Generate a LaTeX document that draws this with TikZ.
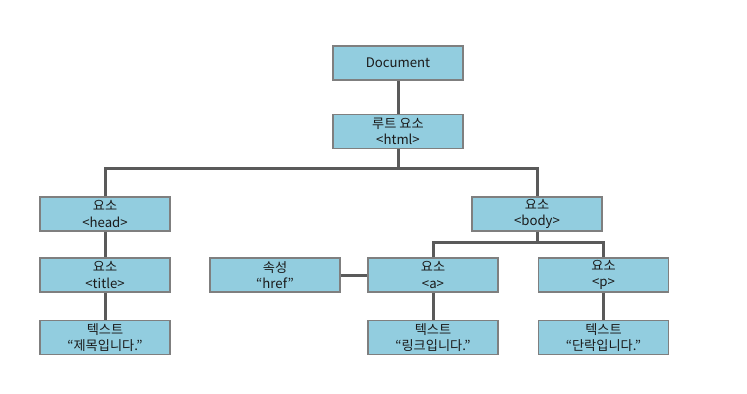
\documentclass[tikz,border=0pt]{standalone}
\usepackage{fontspec}
\setmainfont{Noto Sans CJK KR}
\definecolor{boxfill}{HTML}{92CDDF}
\definecolor{boxline}{HTML}{7F7F7F}
\definecolor{conn}{HTML}{5A5A5A}
\definecolor{txt}{HTML}{1A1A1A}
\begin{document}
\begin{tikzpicture}[x=1bp,y=-1bp,
  domnode/.style={draw=boxline,line width=1.3bp,fill=boxfill,rectangle,
    minimum width=130bp,minimum height=34bp,inner sep=0pt,align=center,
    text=txt,font=\fontsize{13.2bp}{16.5bp}\selectfont},
  link/.style={draw=conn,line width=3bp}]
\useasboundingbox (0,0) rectangle (747,393);
\node[domnode] (doc) at (398,63) {Document};
\node[domnode] (root) at (398,131.5) {루트 요소\\<html>};
\node[domnode] (head) at (105,214) {요소\\<head>};
\node[domnode] (title) at (105,275) {요소\\<title>};
\node[domnode] (ttext) at (105,337.5) {텍스트\\“제목입니다.”};
\node[domnode] (body) at (537,214) {요소\\<body>};
\node[domnode] (href) at (275,275) {속성\\“href”};
\node[domnode] (a) at (433,275) {요소\\<a>};
\node[domnode] (p) at (603.5,275) {요소\\<p>};
\node[domnode] (atext) at (433,337.5) {텍스트\\“링크입니다.”};
\node[domnode] (ptext) at (603.5,337.5) {텍스트\\“단락입니다.”};
\coordinate (b1) at (398,168);
\coordinate (b2) at (537,242);
\draw[link] (doc.south) -- (root.north);
\draw[link] (root.south) -- (b1);
\draw[link] (head.north) |- (b1) -| (body.north);
\draw[link] (head.south) -- (title.north);
\draw[link] (title.south) -- (ttext.north);
\draw[link] (body.south) -- (b2);
\draw[link] (a.north) |- (b2) -| (p.north);
\draw[link] (href.east) -- (a.west);
\draw[link] (a.south) -- (atext.north);
\draw[link] (p.south) -- (ptext.north);
\end{tikzpicture}
\end{document}
